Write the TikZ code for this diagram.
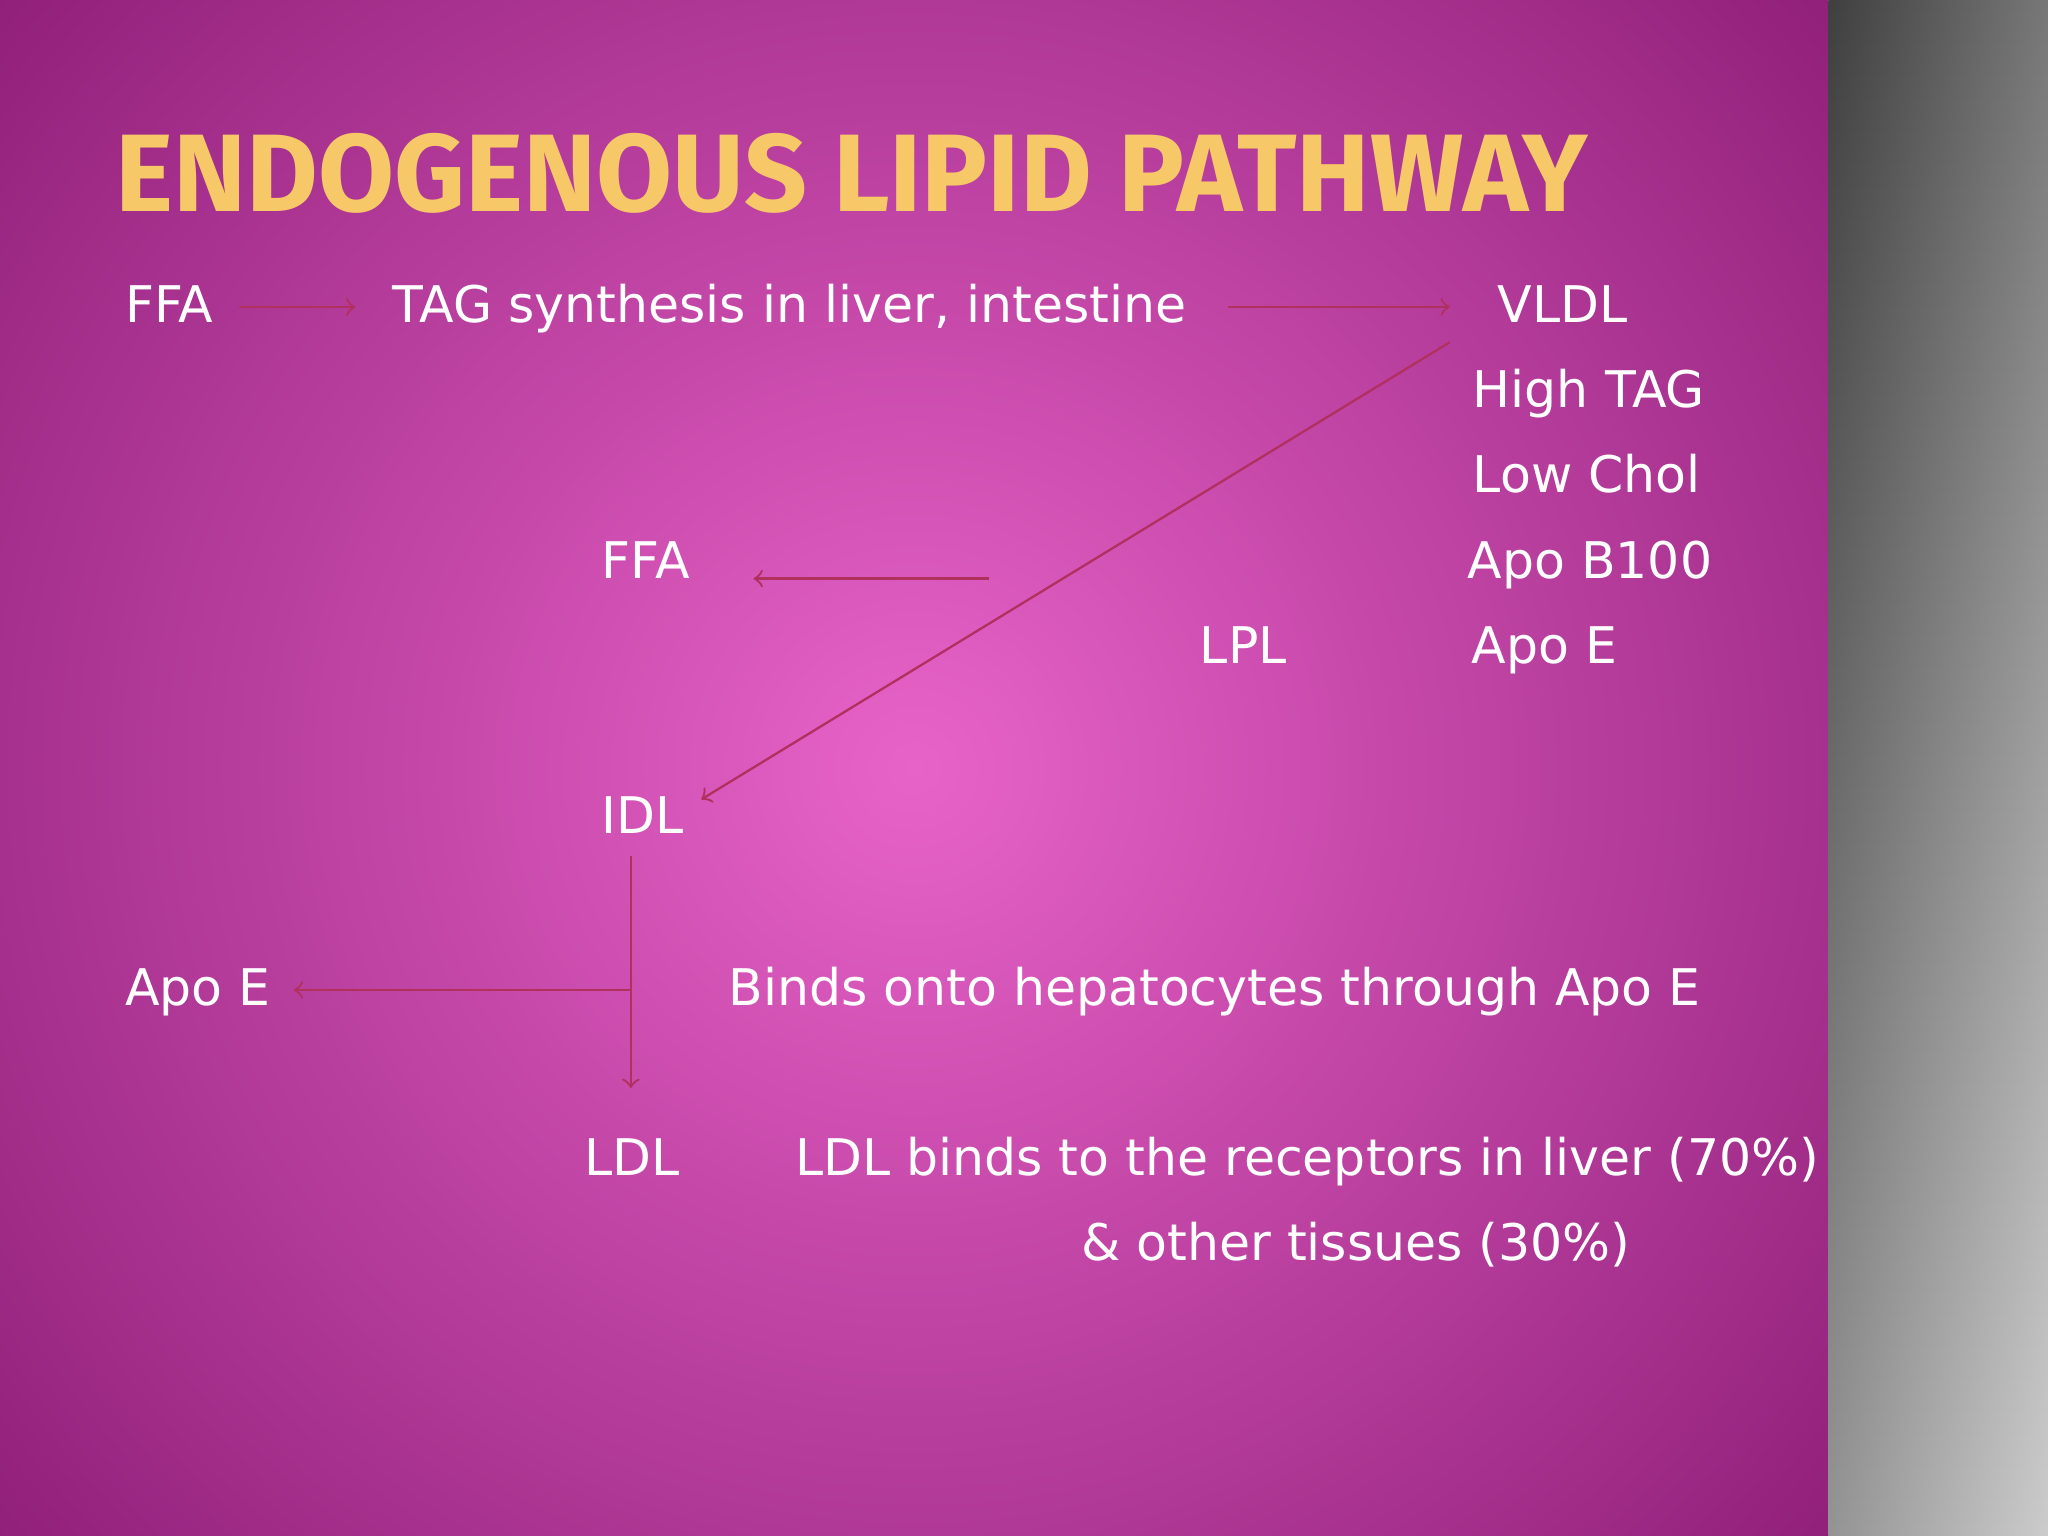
\documentclass[tikz,border=0pt]{standalone}
\usepackage{fontspec}
\setmainfont{DejaVu Sans}
\newfontfamily\titlefont{Fira Sans}
\begin{document}
\begin{tikzpicture}[x=0.1mm,y=-0.1mm,
  lbl/.style={anchor=base west,inner sep=0,text=white,font=\fontsize{11pt}{13pt}\selectfont},
  arr/.style={draw=arrowc,line width=0.5pt,->}]
\definecolor{arrowc}{HTML}{B0305E}
\definecolor{bgmid}{HTML}{E863C8}
\definecolor{bgedge}{HTML}{8E1E78}
\definecolor{titlec}{HTML}{F7C868}
\useasboundingbox (0,0) rectangle (1568,1176);
\begin{scope}
\clip (0,0) rectangle (1400,1176);
\shade[inner color=bgmid,outer color=bgedge] (-250,-350) rectangle (1650,1526);
\end{scope}
\shade[left color=black!65!gray,right color=gray!55] (1400,0) rectangle (1568,1176);
\shade[top color=black!70,bottom color=white!70!gray,opacity=0.6] (1400,0) rectangle (1568,1176);
\node[anchor=base west,inner sep=0,font=\titlefont\bfseries\fontsize{24pt}{27pt}\selectfont,text=titlec] (t) at (88,162) {ENDOGENOUS LIPID PATHWAY};
\node[lbl] (ffa1) at (95,247) {FFA};
\node[lbl] (tag) at (300,247) {TAG synthesis in liver, intestine};
\node[lbl] (vldl) at (1146,247) {VLDL};
\node[lbl] (h) at (1127,312) {High TAG};
\node[lbl] (l) at (1127,377) {Low Chol};
\node[lbl] (b) at (1123,443) {Apo B100};
\node[lbl] (e1) at (1126,508) {Apo E};
\node[lbl] (lpl) at (918,508) {LPL};
\node[lbl] (ffa2) at (460,443) {FFA};
\node[lbl] (idl) at (460,638) {IDL};
\node[lbl] (e2) at (95,770) {Apo E};
\node[lbl] (bind) at (557,770) {Binds onto hepatocytes through Apo E};
\node[lbl] (ldl) at (447,900) {LDL};
\node[lbl] (ldlb) at (608,900) {LDL binds to the receptors in liver (70\%)};
\node[lbl] (oth) at (827,965) {\& other tissues (30\%)};
\coordinate (a1) at (183,235); \coordinate (a2) at (272,235);
\coordinate (b1) at (940,235); \coordinate (b2) at (1110,235);
\coordinate (c1) at (757,443); \coordinate (c2) at (577,443);
\coordinate (d1) at (1110,262); \coordinate (d2) at (537,612);
\coordinate (f1) at (483,655); \coordinate (f2) at (483,833);
\coordinate (g1) at (483,758); \coordinate (g2) at (225,758);
\draw[arr] (a1) -- (a2);
\draw[arr] (b1) -- (b2);
\draw[arr] (c1) -- (c2);
\draw[arr] (d1) -- (d2);
\draw[arr] (f1) -- (f2);
\draw[arr] (g1) -- (g2);
\end{tikzpicture}
\end{document}
